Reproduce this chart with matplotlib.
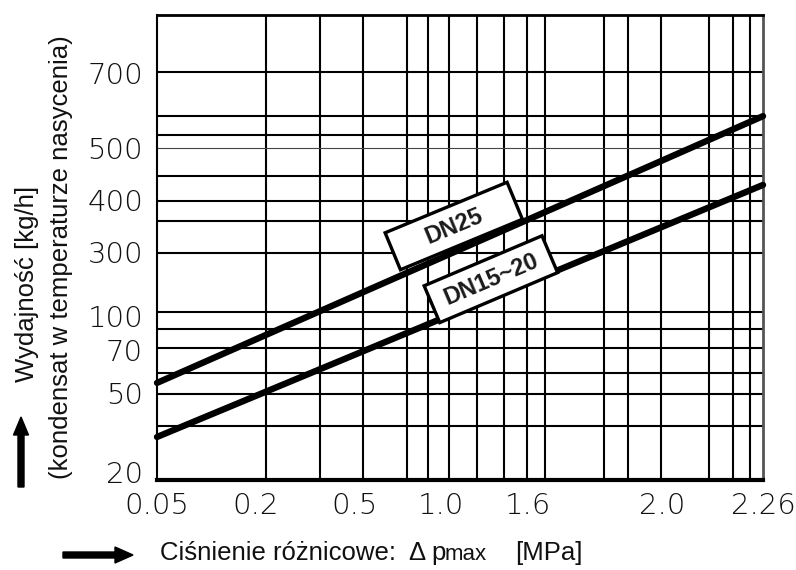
import numpy as np
import matplotlib
matplotlib.use('Agg')
import matplotlib.pyplot as plt
from matplotlib.path import Path
from matplotlib.patches import FancyArrow

# --- data ---
x_ticks = [0.05, 0.2, 0.5, 1.0, 1.6, 2.0, 2.26]
x_labels = ['0.05', '0.2', '0.5', '1.0', '1.6', '2.0', '2.26']
y_ticks = [20, 50, 70, 100, 300, 400, 500, 700]
y_labels = ['20', '50', '70', '100', '300', '400', '500', '700']

dp = [0.05, 2.26]            # MPa
dn25 = [54.7, 585]           # kg/h
dn15_20 = [33.3, 429]        # kg/h

# --- the chart's own (non-uniform) scale: where each labelled value sits, px ---
X_KNOT_PX = [0, 99, 198, 284, 371, 505, 606]
Y_KNOT_PX = [8, 87, 130, 164, 228, 280, 332, 407]
AX_W, AX_H = 606, 465

# decorative grid of the printed chart (px from left / from top of plot box)
V_GRID = [109, 163, 206, 250, 271, 292, 320, 347, 370, 388, 447, 471, 504, 552, 576, 593]
H_GRID = [57, 101, 120, 161, 186, 206, 238, 297, 314, 333, 358, 379, 411]
H_GRID_THIN = [133]


def piecewise(src, dst):
    src = np.asarray(src, float)
    dst = np.asarray(dst, float)
    s0 = (dst[1] - dst[0]) / (src[1] - src[0])
    s1 = (dst[-1] - dst[-2]) / (src[-1] - src[-2])

    def f(v):
        v = np.asarray(v, float)
        out = np.interp(v, src, dst)
        out = np.where(v < src[0], dst[0] + (v - src[0]) * s0, out)
        out = np.where(v > src[-1], dst[-1] + (v - src[-1]) * s1, out)
        return out
    return f


xf, xi = piecewise(x_ticks, X_KNOT_PX), piecewise(X_KNOT_PX, x_ticks)
yf, yi = piecewise(y_ticks, Y_KNOT_PX), piecewise(Y_KNOT_PX, y_ticks)


def fixed_box(w, h):
    def style(x0, y0, width, height, mutation_size):
        cx, cy = x0 + width / 2, y0 + height / 2
        return Path([(cx - w / 2, cy - h / 2), (cx + w / 2, cy - h / 2),
                     (cx + w / 2, cy + h / 2), (cx - w / 2, cy + h / 2),
                     (cx - w / 2, cy - h / 2)], closed=True)
    return style


W, H = 796, 570
fig = plt.figure(figsize=(W / 100, H / 100), dpi=100)
ax = fig.add_axes([157 / W, 1 - 480 / H, AX_W / W, AX_H / H])
ax.set_xscale('function', functions=(xf, xi))
ax.set_yscale('function', functions=(yf, yi))
ax.set_xlim(float(xi(0)), float(xi(AX_W)))
ax.set_ylim(float(yi(0)), float(yi(AX_H)))

for px in V_GRID:
    ax.plot([px / AX_W] * 2, [0, 1], transform=ax.transAxes, color='black', lw=1.5, zorder=1)
for py in H_GRID:
    ax.plot([0, 1], [1 - py / AX_H] * 2, transform=ax.transAxes, color='black', lw=1.5, zorder=1)
for py in H_GRID_THIN:
    ax.plot([0, 1], [1 - py / AX_H] * 2, transform=ax.transAxes, color='#444444', lw=0.8, zorder=1)

ax.plot(dp, dn25, color='black', lw=4.6, solid_capstyle='round', zorder=3, clip_on=False)
ax.plot(dp, dn15_20, color='black', lw=4.6, solid_capstyle='round', zorder=3, clip_on=False)

ax.text(1.088, 350, 'DN25', rotation=22.5, rotation_mode='anchor', ha='center', va='center',
        fontsize=17, fontweight='bold', family='Liberation Sans', color='#1a1a1a', zorder=5,
        bbox=dict(boxstyle=fixed_box(132, 40), fc='white', ec='black', lw=2.4))
ax.text(1.344, 215, 'DN15~20', rotation=23, rotation_mode='anchor', ha='center', va='center',
        fontsize=17, fontweight='bold', family='Liberation Sans', color='#1a1a1a', zorder=5,
        bbox=dict(boxstyle=fixed_box(128, 40), fc='white', ec='black', lw=2.4))

ax.set_xticks(x_ticks)
ax.set_xticklabels(x_labels)
ax.set_yticks(y_ticks)
ax.set_yticklabels(y_labels)
ax.minorticks_off()
ax.tick_params(length=0, labelsize=21)
ax.tick_params(axis='x', pad=9)
ax.tick_params(axis='y', pad=10)
for lab in ax.get_xticklabels() + ax.get_yticklabels():
    lab.set_family('DejaVu Sans')
    lab.set_fontweight('light')
    lab.set_color('#111111')

ax.spines['left'].set_linewidth(1.5)
ax.spines['top'].set_linewidth(2)
ax.spines['bottom'].set_linewidth(3)
ax.spines['right'].set_linewidth(2)
ax.spines['right'].set_color('#555555')

# axis titles
lab_font = dict(family='Liberation Sans', fontsize=18.5, color='#111111')
fig.text(27 / W, 1 - 284 / H, 'Wydajność [kg/h]', rotation=90, ha='center', va='center', **lab_font)
fig.text(61 / W, 1 - 257 / H, '(kondensat w temperaturze nasycenia)', rotation=90,
         ha='center', va='center', **lab_font)
fig.text(160 / W, 1 - 553 / H, 'Ciśnienie różnicowe:', ha='left', va='center', **lab_font)
fig.text(408 / W, 1 - 553 / H, 'Δ', ha='left', va='center', **lab_font)
fig.text(431 / W, 1 - 553 / H, 'p', ha='left', va='center', **lab_font)
fig.text(445 / W, 1 - 555 / H, 'max', ha='left', va='center', family='Liberation Sans',
         fontsize=16, color='#111111')
fig.text(515 / W, 1 - 553 / H, '[MPa]', ha='left', va='center', **lab_font)

# arrows
fig.add_artist(FancyArrow(63 / W, 1 - 555 / H, 70 / W, 0, width=6 / H, head_width=16 / H,
                          head_length=18 / W, length_includes_head=True, color='black',
                          transform=fig.transFigure))
fig.add_artist(FancyArrow(21 / W, 1 - 487 / H, 0, 70 / H, width=6 / W, head_width=15 / W,
                          head_length=18 / H, length_includes_head=True, color='black',
                          transform=fig.transFigure))

fig.savefig('out.png', dpi=100)
